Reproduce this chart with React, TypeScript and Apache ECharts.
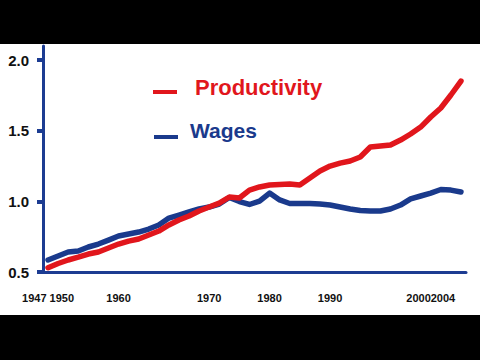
import React, { useEffect, useRef } from "react";
import * as echarts from "echarts";

// Tick labels along the x axis (one slot per sample of the lines)
const xLabels: string[] = [
  "1947 1950", "", "", "", "", "", "", "1960", "", "",
  "", "", "", "", "", "", "1970", "", "", "",
  "", "", "1980", "", "", "", "", "", "1990", "",
  "", "", "", "", "", "", "", "", "20002004", "",
  "", "",
];

const productivity: number[] = [
  0.53, 0.56, 0.585, 0.605, 0.627, 0.642, 0.67, 0.698, 0.719, 0.734,
  0.762, 0.79, 0.833, 0.868, 0.896, 0.932, 0.96, 0.988, 1.031, 1.024,
  1.08, 1.102, 1.116, 1.12, 1.123, 1.116, 1.165, 1.215, 1.25, 1.271,
  1.286, 1.314, 1.385, 1.392, 1.399, 1.434, 1.477, 1.526, 1.597, 1.661,
  1.753, 1.852,
];

const wages: number[] = [
  0.585, 0.613, 0.642, 0.649, 0.677, 0.698, 0.726, 0.755, 0.769, 0.783,
  0.804, 0.833, 0.882, 0.903, 0.925, 0.946, 0.96, 0.981, 1.027, 0.999,
  0.978, 1.002, 1.059, 1.01, 0.985, 0.985, 0.985, 0.981, 0.974, 0.96,
  0.946, 0.935, 0.932, 0.932, 0.946, 0.974, 1.017, 1.038, 1.059, 1.084,
  1.08, 1.066,
];

const yTicks: number[] = [0.5, 1.0, 1.5, 2.0];

const RED = "#e1161c";
const BLUE = "#1a3a8c";
const AXIS = "#1c3c92";

export default function App() {
  const ref = useRef<HTMLDivElement>(null);

  useEffect(() => {
    if (!ref.current) return;
    const chart = echarts.init(ref.current, null, { renderer: "svg" });
    chart.setOption({
      animation: false,
      backgroundColor: "#ffffff",
      grid: { left: 43, right: 14, top: 46, bottom: 88, containLabel: false },
      xAxis: {
        type: "category",
        data: xLabels,
        boundaryGap: true,
        axisLine: { show: true, lineStyle: { color: AXIS, width: 3 } },
        axisTick: { show: false },
        splitLine: { show: false },
        axisLabel: {
          interval: 0,
          margin: 20,
          color: "#111",
          fontSize: 11,
          fontWeight: "bold",
          fontFamily: "'Liberation Sans Narrow', 'Arial Narrow', 'Liberation Sans', sans-serif",
        },
      },
      yAxis: {
        type: "value",
        min: 0.5,
        max: 2.1,
        axisLine: { show: true, lineStyle: { color: AXIS, width: 3 } },
        axisTick: {
          show: true,
          customValues: yTicks,
          length: 6,
          lineStyle: { color: AXIS, width: 4 },
        },
        splitLine: { show: false },
        axisLabel: {
          customValues: yTicks,
          margin: 14,
          color: "#111",
          fontSize: 15,
          fontWeight: "bold",
          fontFamily: "'Liberation Sans', Arial, sans-serif",
          formatter: (v: number) => v.toFixed(1),
        },
      },
      series: [
        {
          name: "Wages",
          type: "line",
          data: wages,
          symbol: "none",
          smooth: false,
          lineStyle: { color: BLUE, width: 5.5, cap: "round", join: "round" },
          z: 3,
        },
        {
          name: "Productivity",
          type: "line",
          data: productivity,
          symbol: "none",
          smooth: false,
          lineStyle: { color: RED, width: 5.5, cap: "round", join: "round" },
          z: 4,
        },
      ],
      graphic: [
        { type: "rect", left: 0, top: 0, shape: { width: 480, height: 44 }, style: { fill: "#000" }, z: 100 },
        { type: "rect", left: 0, top: 315, shape: { width: 480, height: 45 }, style: { fill: "#000" }, z: 100 },
        { type: "rect", shape: { x: 153, y: 90, width: 24, height: 4 }, style: { fill: RED } },
        {
          type: "text",
          x: 195,
          y: 87,
          style: {
            text: "Productivity",
            fill: RED,
            font: "bold 22px 'Liberation Sans', Arial, sans-serif",
            textVerticalAlign: "middle",
          },
        },
        { type: "rect", shape: { x: 154, y: 135, width: 24, height: 4 }, style: { fill: BLUE } },
        {
          type: "text",
          x: 190,
          y: 130,
          style: {
            text: "Wages",
            fill: BLUE,
            font: "bold 21px 'Liberation Sans', Arial, sans-serif",
            textVerticalAlign: "middle",
          },
        },
      ],
    });
    return () => chart.dispose();
  }, []);

  return (
    <div
      ref={ref}
      style={{ position: "fixed", left: 0, top: 0, width: 480, height: 360 }}
    />
  );
}
